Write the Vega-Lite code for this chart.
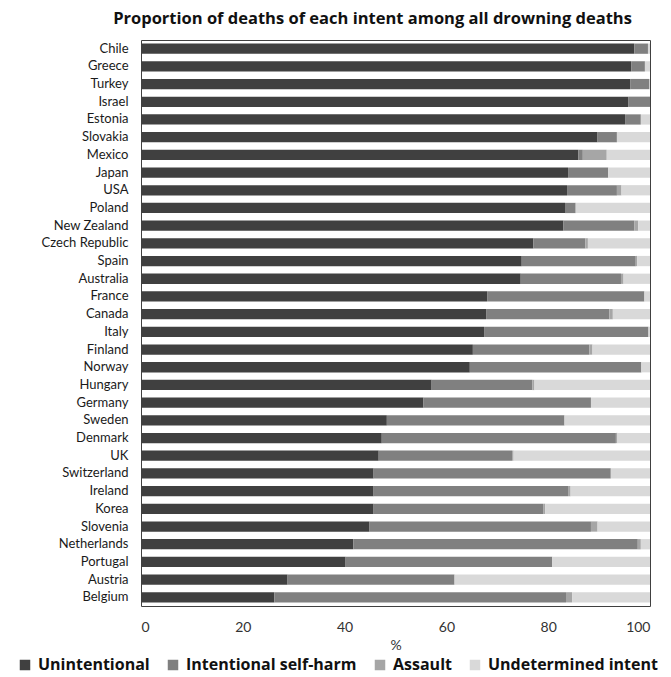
{
  "$schema": "https://vega.github.io/schema/vega-lite/v6.json",
  "autosize": "none",
  "padding": {"left": 141, "top": 40, "right": 21, "bottom": 71},
  "width": 509,
  "height": 566,
  "background": "white",
  "title": {"text": "Proportion of deaths of each intent among all drowning deaths", "font": "Open Sans", "fontSize": 16.5, "fontWeight": "bold", "color": "#111111", "anchor": "middle", "dx": -23, "offset": 13},
  "config": {
    "view": {"stroke": "#404040", "strokeWidth": 1},
    "font": "Lato"
  },
  "data": {"values": [
    {"country":"Chile","intent":"Unintentional","k":1,"value":96.9},{"country":"Chile","intent":"Intentional self-harm","k":2,"value":2.7},{"country":"Chile","intent":"Undetermined intent","k":4,"value":0.4},
    {"country":"Greece","intent":"Unintentional","k":1,"value":96.3},{"country":"Greece","intent":"Intentional self-harm","k":2,"value":2.7},{"country":"Greece","intent":"Undetermined intent","k":4,"value":1.0},
    {"country":"Turkey","intent":"Unintentional","k":1,"value":96.1},{"country":"Turkey","intent":"Intentional self-harm","k":2,"value":3.8},{"country":"Turkey","intent":"Undetermined intent","k":4,"value":0.1},
    {"country":"Israel","intent":"Unintentional","k":1,"value":95.7},{"country":"Israel","intent":"Intentional self-harm","k":2,"value":4.3},
    {"country":"Estonia","intent":"Unintentional","k":1,"value":95.1},{"country":"Estonia","intent":"Intentional self-harm","k":2,"value":3.1},{"country":"Estonia","intent":"Undetermined intent","k":4,"value":1.8},
    {"country":"Slovakia","intent":"Unintentional","k":1,"value":89.7},{"country":"Slovakia","intent":"Intentional self-harm","k":2,"value":3.8},{"country":"Slovakia","intent":"Undetermined intent","k":4,"value":6.5},
    {"country":"Mexico","intent":"Unintentional","k":1,"value":85.9},{"country":"Mexico","intent":"Intentional self-harm","k":2,"value":0.9},{"country":"Mexico","intent":"Assault","k":3,"value":4.7},{"country":"Mexico","intent":"Undetermined intent","k":4,"value":8.5},
    {"country":"Japan","intent":"Unintentional","k":1,"value":83.9},{"country":"Japan","intent":"Intentional self-harm","k":2,"value":7.9},{"country":"Japan","intent":"Undetermined intent","k":4,"value":8.2},
    {"country":"USA","intent":"Unintentional","k":1,"value":83.7},{"country":"USA","intent":"Intentional self-harm","k":2,"value":9.8},{"country":"USA","intent":"Assault","k":3,"value":0.9},{"country":"USA","intent":"Undetermined intent","k":4,"value":5.6},
    {"country":"Poland","intent":"Unintentional","k":1,"value":83.3},{"country":"Poland","intent":"Intentional self-harm","k":2,"value":2.1},{"country":"Poland","intent":"Undetermined intent","k":4,"value":14.6},
    {"country":"New Zealand","intent":"Unintentional","k":1,"value":83.0},{"country":"New Zealand","intent":"Intentional self-harm","k":2,"value":13.9},{"country":"New Zealand","intent":"Assault","k":3,"value":0.8},{"country":"New Zealand","intent":"Undetermined intent","k":4,"value":2.3},
    {"country":"Czech Republic","intent":"Unintentional","k":1,"value":77.1},{"country":"Czech Republic","intent":"Intentional self-harm","k":2,"value":10.2},{"country":"Czech Republic","intent":"Assault","k":3,"value":0.5},{"country":"Czech Republic","intent":"Undetermined intent","k":4,"value":12.2},
    {"country":"Spain","intent":"Unintentional","k":1,"value":74.8},{"country":"Spain","intent":"Intentional self-harm","k":2,"value":22.4},{"country":"Spain","intent":"Assault","k":3,"value":0.3},{"country":"Spain","intent":"Undetermined intent","k":4,"value":2.5},
    {"country":"Australia","intent":"Unintentional","k":1,"value":74.6},{"country":"Australia","intent":"Intentional self-harm","k":2,"value":19.7},{"country":"Australia","intent":"Assault","k":3,"value":0.5},{"country":"Australia","intent":"Undetermined intent","k":4,"value":5.2},
    {"country":"France","intent":"Unintentional","k":1,"value":68.0},{"country":"France","intent":"Intentional self-harm","k":2,"value":30.9},{"country":"France","intent":"Undetermined intent","k":4,"value":1.1},
    {"country":"Canada","intent":"Unintentional","k":1,"value":67.8},{"country":"Canada","intent":"Intentional self-harm","k":2,"value":24.2},{"country":"Canada","intent":"Assault","k":3,"value":0.7},{"country":"Canada","intent":"Undetermined intent","k":4,"value":7.3},
    {"country":"Italy","intent":"Unintentional","k":1,"value":67.4},{"country":"Italy","intent":"Intentional self-harm","k":2,"value":32.3},{"country":"Italy","intent":"Undetermined intent","k":4,"value":0.3},
    {"country":"Finland","intent":"Unintentional","k":1,"value":65.2},{"country":"Finland","intent":"Intentional self-harm","k":2,"value":22.9},{"country":"Finland","intent":"Assault","k":3,"value":0.6},{"country":"Finland","intent":"Undetermined intent","k":4,"value":11.3},
    {"country":"Norway","intent":"Unintentional","k":1,"value":64.6},{"country":"Norway","intent":"Intentional self-harm","k":2,"value":33.7},{"country":"Norway","intent":"Undetermined intent","k":4,"value":1.7},
    {"country":"Hungary","intent":"Unintentional","k":1,"value":57.1},{"country":"Hungary","intent":"Intentional self-harm","k":2,"value":19.8},{"country":"Hungary","intent":"Assault","k":3,"value":0.4},{"country":"Hungary","intent":"Undetermined intent","k":4,"value":22.7},
    {"country":"Germany","intent":"Unintentional","k":1,"value":55.5},{"country":"Germany","intent":"Intentional self-harm","k":2,"value":32.9},{"country":"Germany","intent":"Undetermined intent","k":4,"value":11.6},
    {"country":"Sweden","intent":"Unintentional","k":1,"value":48.3},{"country":"Sweden","intent":"Intentional self-harm","k":2,"value":34.9},{"country":"Sweden","intent":"Undetermined intent","k":4,"value":16.8},
    {"country":"Denmark","intent":"Unintentional","k":1,"value":47.3},{"country":"Denmark","intent":"Intentional self-harm","k":2,"value":46.0},{"country":"Denmark","intent":"Assault","k":3,"value":0.3},{"country":"Denmark","intent":"Undetermined intent","k":4,"value":6.4},
    {"country":"UK","intent":"Unintentional","k":1,"value":46.7},{"country":"UK","intent":"Intentional self-harm","k":2,"value":26.2},{"country":"UK","intent":"Assault","k":3,"value":0.3},{"country":"UK","intent":"Undetermined intent","k":4,"value":26.8},
    {"country":"Switzerland","intent":"Unintentional","k":1,"value":45.7},{"country":"Switzerland","intent":"Intentional self-harm","k":2,"value":46.6},{"country":"Switzerland","intent":"Undetermined intent","k":4,"value":7.7},
    {"country":"Ireland","intent":"Unintentional","k":1,"value":45.7},{"country":"Ireland","intent":"Intentional self-harm","k":2,"value":38.2},{"country":"Ireland","intent":"Assault","k":3,"value":0.5},{"country":"Ireland","intent":"Undetermined intent","k":4,"value":15.6},
    {"country":"Korea","intent":"Unintentional","k":1,"value":45.7},{"country":"Korea","intent":"Intentional self-harm","k":2,"value":33.3},{"country":"Korea","intent":"Assault","k":3,"value":0.4},{"country":"Korea","intent":"Undetermined intent","k":4,"value":20.6},
    {"country":"Slovenia","intent":"Unintentional","k":1,"value":44.9},{"country":"Slovenia","intent":"Intentional self-harm","k":2,"value":43.5},{"country":"Slovenia","intent":"Assault","k":3,"value":1.3},{"country":"Slovenia","intent":"Undetermined intent","k":4,"value":10.3},
    {"country":"Netherlands","intent":"Unintentional","k":1,"value":41.7},{"country":"Netherlands","intent":"Intentional self-harm","k":2,"value":55.9},{"country":"Netherlands","intent":"Assault","k":3,"value":0.6},{"country":"Netherlands","intent":"Undetermined intent","k":4,"value":1.8},
    {"country":"Portugal","intent":"Unintentional","k":1,"value":40.2},{"country":"Portugal","intent":"Intentional self-harm","k":2,"value":40.6},{"country":"Portugal","intent":"Undetermined intent","k":4,"value":19.2},
    {"country":"Austria","intent":"Unintentional","k":1,"value":28.8},{"country":"Austria","intent":"Intentional self-harm","k":2,"value":32.8},{"country":"Austria","intent":"Undetermined intent","k":4,"value":38.4},
    {"country":"Belgium","intent":"Unintentional","k":1,"value":26.2},{"country":"Belgium","intent":"Intentional self-harm","k":2,"value":57.3},{"country":"Belgium","intent":"Assault","k":3,"value":1.2},{"country":"Belgium","intent":"Undetermined intent","k":4,"value":15.3}
  ]},
  "mark": {"type": "bar"},
  "encoding": {
    "y": {
      "field": "country", "type": "nominal",
      "sort": ["Chile","Greece","Turkey","Israel","Estonia","Slovakia","Mexico","Japan","USA","Poland","New Zealand","Czech Republic","Spain","Australia","France","Canada","Italy","Finland","Norway","Hungary","Germany","Sweden","Denmark","UK","Switzerland","Ireland","Korea","Slovenia","Netherlands","Portugal","Austria","Belgium"],
      "scale": {"paddingInner": 0.42, "paddingOuter": 0.2},
      "axis": {"title": null, "domain": false, "ticks": false, "labelPadding": 13, "labelFontSize": 13, "labelColor": "#1a1a1a", "labelFont": "Lato"}
    },
    "x": {
      "field": "value", "type": "quantitative", "stack": "zero",
      "scale": {"domain": [0, 100], "nice": false},
      "axis": {"title": "%", "values": [0,20,40,60,80,100], "grid": false, "domain": false, "ticks": false, "labelPadding": 14, "labelFontSize": 14, "labelColor": "#333333", "labelFont": "Lato", "titleFont": "Lato", "titleFontSize": 14, "titleFontWeight": "normal", "titleColor": "#333333", "titlePadding": 4}
    },
    "color": {
      "field": "intent", "type": "nominal",
      "scale": {"domain": ["Unintentional","Intentional self-harm","Assault","Undetermined intent"], "range": ["#404040","#808080","#a6a6a6","#d9d9d9"]},
      "legend": {"title": null, "orient": "none", "direction": "horizontal", "legendX": -124, "legendY": 617, "symbolType": "square", "symbolSize": 110, "symbolStrokeWidth": 0, "labelFont": "Open Sans", "labelFontSize": 16, "labelFontWeight": "bold", "labelColor": "#111111", "labelLimit": 400, "columnPadding": 15, "labelOffset": 5}
    },
    "order": {"field": "k", "type": "quantitative"}
  }
}
